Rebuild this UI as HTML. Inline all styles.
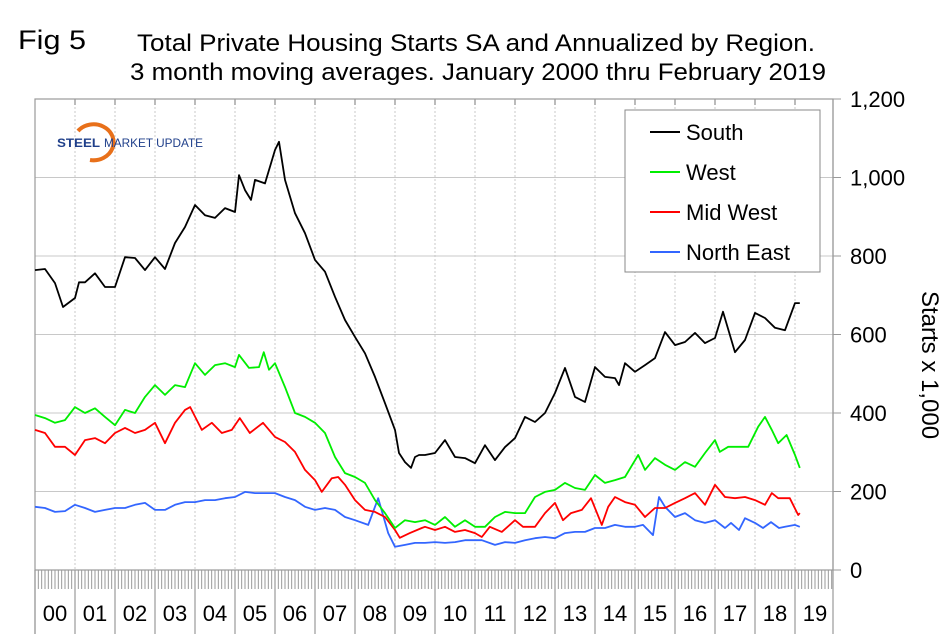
<!DOCTYPE html>
<html><head><meta charset="utf-8"><style>
html,body{margin:0;padding:0;background:#fff;}
svg{display:block;font-family:"Liberation Sans",Arial,sans-serif;}
</style></head><body>
<svg id="chart" width="950" height="642" viewBox="0 0 950 642">
<text x="18" y="49" font-size="27" textLength="68" lengthAdjust="spacingAndGlyphs">Fig 5</text>
<text x="137" y="51" font-size="24" textLength="678" lengthAdjust="spacingAndGlyphs">Total Private Housing Starts SA and Annualized by Region.</text>
<text x="130" y="80" font-size="24" textLength="696" lengthAdjust="spacingAndGlyphs">3 month moving averages. January 2000 thru February 2019</text>
<g id="grid"></g>
<g id="axes"></g>
<g>
<path d="M78,131 A20,18 0 1 1 90,160" fill="none" stroke="#e8701a" stroke-width="4"/>
<text x="57" y="147" font-size="11.5" font-weight="bold" fill="#1f3f8a" textLength="43" lengthAdjust="spacingAndGlyphs">STEEL</text>
<text x="104" y="147" font-size="11.5" fill="#1f3f8a" textLength="99" lengthAdjust="spacingAndGlyphs">MARKET UPDATE</text>
</g>
<g id="series"></g>
<g>
<rect x="625" y="110" width="195" height="162" fill="#fff" stroke="#888" stroke-width="1"/>
<line x1="650" x2="680" y1="132" y2="132" stroke="#000" stroke-width="2"/>
<text x="686" y="140" font-size="22">South</text>
<line x1="650" x2="680" y1="172" y2="172" stroke="#00ee00" stroke-width="2"/>
<text x="686" y="180" font-size="22">West</text>
<line x1="650" x2="680" y1="212" y2="212" stroke="#ff0000" stroke-width="2"/>
<text x="686" y="220" font-size="22">Mid West</text>
<line x1="650" x2="680" y1="252" y2="252" stroke="#3366ff" stroke-width="2"/>
<text x="686" y="260" font-size="22">North East</text>
</g>
<text transform="translate(922,365) rotate(90)" text-anchor="middle" font-size="24">Starts x 1,000</text>
</svg>
<script>
const yTicks=[0,200,400,600,800,1000,1200];
const yearLabels=["00","01","02","03","04","05","06","07","08","09","10","11","12","13","14","15","16","17","18","19"];
const southT=[2000,2000.25,2000.5,2000.7,2001,2001.1,2001.25,2001.5,2001.75,2002,2002.25,2002.5,2002.75,2003,2003.25,2003.5,2003.75,2004,2004.25,2004.5,2004.75,2005,2005.1,2005.25,2005.4,2005.5,2005.75,2006,2006.1,2006.25,2006.5,2006.75,2007,2007.25,2007.5,2007.75,2008,2008.25,2008.5,2008.75,2009,2009.1,2009.25,2009.4,2009.5,2009.6,2009.75,2010,2010.25,2010.5,2010.75,2011,2011.25,2011.5,2011.75,2012,2012.25,2012.5,2012.75,2013,2013.25,2013.5,2013.75,2014,2014.25,2014.5,2014.6,2014.75,2015,2015.25,2015.5,2015.75,2016,2016.25,2016.5,2016.75,2017,2017.2,2017.5,2017.75,2018,2018.25,2018.5,2018.75,2019,2019.12];
const southV=[764,767,731,670,693,733,733,756,721,721,797,795,764,797,767,833,874,930,904,897,922,912,1006,968,943,994,985,1070,1091,994,909,858,790,760,696,637,594,552,492,425,357,298,275,260,288,293,293,298,331,288,285,272,318,280,313,336,390,377,400,451,515,441,428,517,492,489,471,527,505,522,540,606,573,581,604,578,591,658,555,586,655,642,617,611,680,680];
const westT=[2000,2000.25,2000.5,2000.75,2001,2001.25,2001.5,2001.75,2002,2002.25,2002.5,2002.75,2003,2003.25,2003.5,2003.75,2004,2004.25,2004.5,2004.75,2005,2005.1,2005.35,2005.6,2005.72,2005.85,2006,2006.25,2006.5,2006.75,2007,2007.25,2007.5,2007.75,2008,2008.25,2008.5,2008.75,2009,2009.25,2009.5,2009.75,2010,2010.25,2010.5,2010.75,2011,2011.25,2011.5,2011.75,2012,2012.25,2012.5,2012.75,2013,2013.25,2013.5,2013.75,2014,2014.25,2014.5,2014.75,2015.08,2015.25,2015.5,2015.75,2016,2016.25,2016.5,2016.75,2017,2017.12,2017.33,2017.58,2017.83,2018.08,2018.25,2018.42,2018.58,2018.79,2019,2019.12];
const westV=[395,387,375,382,415,400,412,390,369,408,400,441,471,446,471,466,527,497,522,527,517,548,515,517,555,510,527,466,400,390,375,349,288,247,237,222,178,145,107,127,122,127,115,135,110,127,110,110,135,148,145,145,186,199,204,222,209,204,242,222,229,237,293,255,285,268,255,275,263,298,331,301,314,314,314,365,390,357,323,344,293,260];
const midT=[2000,2000.25,2000.5,2000.75,2001,2001.25,2001.5,2001.75,2002,2002.25,2002.5,2002.75,2003,2003.25,2003.5,2003.75,2003.88,2004.17,2004.42,2004.67,2004.92,2005.12,2005.37,2005.7,2006,2006.25,2006.5,2006.75,2007,2007.17,2007.42,2007.58,2007.75,2008,2008.25,2008.5,2008.75,2009,2009.12,2009.37,2009.67,2009.75,2010,2010.25,2010.5,2010.75,2011,2011.17,2011.37,2011.67,2012,2012.2,2012.5,2012.75,2013,2013.2,2013.4,2013.67,2013.9,2014.17,2014.33,2014.5,2014.75,2015,2015.25,2015.5,2015.75,2016,2016.25,2016.5,2016.75,2017,2017.25,2017.5,2017.75,2018,2018.25,2018.42,2018.58,2018.87,2019.08,2019.12];
const midV=[357,349,314,314,293,331,336,323,349,362,349,357,375,323,375,408,415,357,375,349,357,387,349,375,339,326,301,255,229,199,234,237,217,178,153,148,135,102,82,94,107,110,102,110,97,102,94,84,110,97,127,110,110,145,171,127,145,153,183,115,161,186,173,166,135,158,158,171,183,196,166,217,186,183,186,178,166,196,183,183,140,145];
const neT=[2000,2000.25,2000.5,2000.75,2001,2001.25,2001.5,2001.75,2002,2002.25,2002.5,2002.75,2003,2003.25,2003.5,2003.75,2004,2004.25,2004.5,2004.75,2005,2005.25,2005.5,2005.75,2006,2006.25,2006.5,2006.75,2007,2007.25,2007.5,2007.75,2008,2008.33,2008.58,2008.83,2009,2009.25,2009.5,2009.75,2010,2010.25,2010.5,2010.75,2011,2011.17,2011.5,2011.75,2012,2012.25,2012.5,2012.75,2013,2013.25,2013.5,2013.75,2014,2014.25,2014.5,2014.75,2015,2015.2,2015.45,2015.6,2015.75,2016,2016.25,2016.5,2016.75,2017,2017.25,2017.4,2017.6,2017.75,2018,2018.2,2018.4,2018.6,2018.75,2019,2019.12];
const neV=[161,158,148,150,166,158,148,153,158,158,166,171,153,153,166,173,173,178,178,183,186,199,196,196,196,186,178,161,153,158,153,135,127,115,183,94,59,64,69,69,71,69,71,76,76,76,64,71,69,76,81,84,81,94,97,97,107,107,115,110,110,115,89,186,161,135,145,127,120,127,107,120,102,132,120,107,122,107,110,115,110,120];

const svgNS="http://www.w3.org/2000/svg";
const L=35,R=833,T=99,B=570;
const xS=t=>L+(t-2000)*40;
const yS=v=>B-v*(B-T)/1200;
function mk(tag,attrs,parent){const e=document.createElementNS(svgNS,tag);for(const k in attrs)e.setAttribute(k,attrs[k]);parent.appendChild(e);return e;}
const grid=document.getElementById('grid'),axes=document.getElementById('axes'),series=document.getElementById('series');
yTicks.forEach(v=>{
  if(v>0&&v<1200){const g=mk('line',{x1:L,x2:R,y1:yS(v),y2:yS(v),stroke:'#c8c8c8','stroke-width':1},grid);
  
  }
  const tk=mk('line',{x1:R,x2:R+8,y1:yS(v),y2:yS(v),stroke:'#999','stroke-width':1},axes);
  
  
  const lb=mk('text',{x:850,y:yS(v)+8,'font-size':22},axes);
  lb.textContent=v.toLocaleString('en-US');
  
  
});
yearLabels.forEach((lab,i)=>{
  const x=xS(2000+i);
  if(i>0){const g=mk('line',{x1:x,x2:x,y1:T,y2:B,stroke:'#c8c8c8','stroke-width':1,'stroke-dasharray':'2,2'},grid);
  
  }
  const tt=mk('line',{x1:x,x2:x,y1:T,y2:T+6,stroke:'#777','stroke-width':1},axes);
  
  
  const yl=mk('line',{x1:x,x2:x,y1:B,y2:634,stroke:'#999','stroke-width':1.2},axes);
  
  
  const lb=mk('text',{x:x+20,y:621,'font-size':22,'text-anchor':'middle'},axes);
  lb.textContent=lab;
  
  
});
for(let m=0;m<240;m++){const x=xS(2000+m/12);if(x>R)break;
  const mt=mk('line',{x1:x,x2:x,y1:B,y2:589,stroke:'#999','stroke-width':1},axes);
  
  }
const fr=mk('rect',{x:L,y:T,width:R-L,height:B-T,fill:'none',stroke:'#999','stroke-width':1.2},axes);


const rl=mk('line',{x1:R,x2:R,y1:T,y2:634,stroke:'#999','stroke-width':1.2},axes);


const ll=mk('line',{x1:L,x2:L,y1:B,y2:634,stroke:'#999','stroke-width':1.2},axes);


function draw(T_,V,color,name){
  const d=T_.map((t,i)=>(i?'L':'M')+xS(t).toFixed(1)+','+yS(V[i]).toFixed(1)).join(' ');
  const p=mk('path',{d:d,fill:'none',stroke:color,'stroke-width':1.8,'stroke-linejoin':'round'},series);
  
  
}
draw(neT,neV,'#3366ff','north-east-line');
draw(midT,midV,'#ff0000','mid-west-line');
draw(westT,westV,'#00ee00','west-line');
draw(southT,southV,'#000000','south-line');
</script>
</body></html>
